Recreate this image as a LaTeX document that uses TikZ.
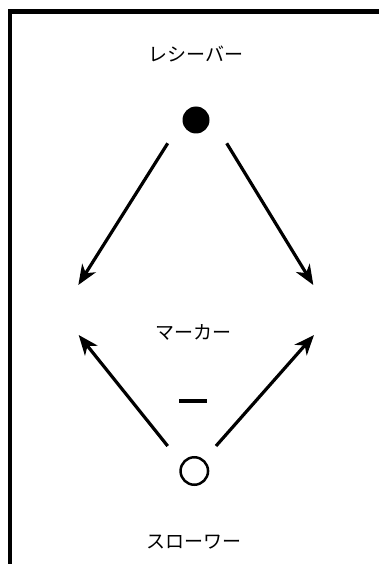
\documentclass[tikz,border=0pt]{standalone}
\usepackage{fontspec}
\newfontfamily\jp{Noto Sans CJK JP}
\usetikzlibrary{arrows.meta}
\begin{document}
\begin{tikzpicture}[x=1pt,y=-1pt,
  lbl/.style={font=\jp\fontsize{19}{22}\selectfont, inner sep=0pt},
  arr/.style={line width=3.2pt, -{Stealth[length=20pt,width=16pt,inset=6pt]}},
  frame/.style={line width=4.5pt, line cap=butt}]
\useasboundingbox (0,0) rectangle (378,564);
% frame
\coordinate (fc) at (10,11.5);
\coordinate (fr) at (380,11.5);
\coordinate (fb) at (10,566);
\draw[frame] (fr) -- (fc) -- (fb);
% labels
\node[lbl] (receiver) at (196,54) {レシーバー};
\node[lbl] (marker) at (193,332) {マーカー};
\node[lbl] (thrower) at (194,542) {スローワー};
% symbols
\node[circle, fill=black, minimum size=27pt, inner sep=0pt] (rc) at (196,120) {};
\node[circle, draw=black, line width=2.5pt, minimum size=27.5pt, inner sep=0pt] (tc) at (194.3,471) {};
\node[rectangle, fill=black, minimum width=28pt, minimum height=3.5pt, inner sep=0pt] (dash) at (193.2,401) {};
% arrow endpoints
\coordinate (a1s) at (167.7,143.3);
\coordinate (a1e) at (78.3,285);
\coordinate (a2s) at (226.7,143.3);
\coordinate (a2e) at (313.3,285);
\coordinate (a3s) at (167.7,446);
\coordinate (a3e) at (78.7,335);
\coordinate (a4s) at (216,446);
\coordinate (a4e) at (314,335);
\draw[arr] (a1s) -- (a1e);
\draw[arr] (a2s) -- (a2e);
\draw[arr] (a3s) -- (a3e);
\draw[arr] (a4s) -- (a4e);
\end{tikzpicture}
\end{document}
